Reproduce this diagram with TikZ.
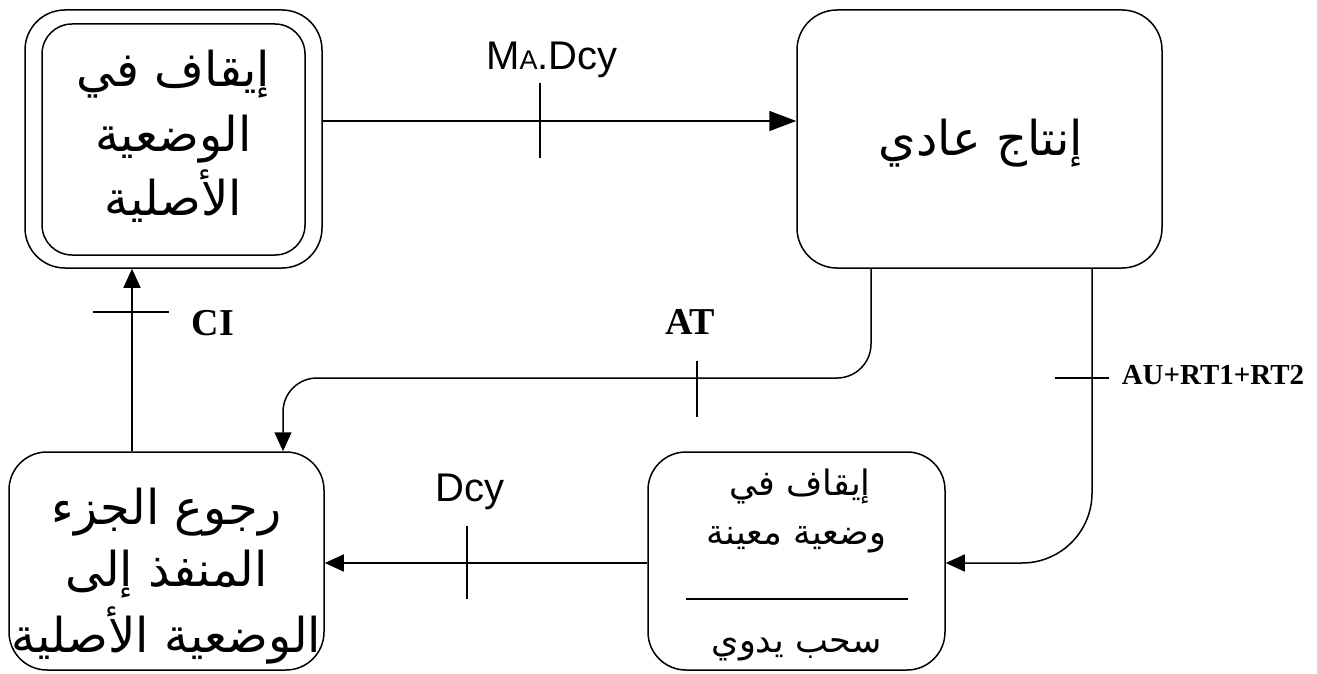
\documentclass[tikz,border=0pt]{standalone}
\usepackage{fontspec}
\usetikzlibrary{arrows.meta}
\TeXXeTstate=1
\newfontfamily\arabicfont[Script=Arabic]{DejaVu Sans}
\newfontfamily\latinsans{Liberation Sans}
\newfontfamily\latinserif{Liberation Serif}

\begin{document}
\begin{tikzpicture}[x=1pt,y=-1pt,
  box/.style={draw, line width=1.5pt, rounded corners=40pt, inner sep=0pt},
  conn/.style={line width=1.5pt},
  arr/.style={conn, -{Triangle[length=19pt,width=17pt]}},
  tickmark/.style={line width=1.5pt},
  bigar/.style={font=\arabicfont\fontsize{48}{56}\selectfont, anchor=base, inner sep=0pt},
  smallar/.style={font=\arabicfont\fontsize{35}{40}\selectfont, anchor=base, inner sep=0pt},
  cond/.style={font=\latinserif\bfseries\fontsize{38}{40}\selectfont, inner sep=0pt},
  sanslbl/.style={font=\latinsans\fontsize{40}{44}\selectfont, inner sep=0pt},
]
\useasboundingbox[fill=white] (0,0) rectangle (1317,674);

% steps
\node[box, minimum width=297pt, minimum height=258pt] (b1o) at (173.5,139) {};
\node[box, rounded corners=30pt, minimum width=263pt, minimum height=231pt] (b1i) at (173.5,139.5) {};
\node[box, minimum width=365pt, minimum height=258pt] (b2) at (979.5,139) {};
\node[box, rounded corners=38pt, minimum width=315pt, minimum height=218pt] (b3) at (166.5,561) {};
\node[box, rounded corners=38pt, minimum width=297pt, minimum height=218pt] (b4) at (796.5,561) {};

% step texts
\node[bigar] (t1a) at (173.5,87) {\beginR إيقاف في\endR};
\node[bigar] (t1b) at (173.5,152) {\beginR الوضعية\endR};
\node[bigar] (t1c) at (173.5,215) {\beginR الأصلية\endR};

\node[bigar] (t2) at (981,155) {\beginR إنتاج عادي\endR};

\node[bigar] (t3a) at (166.5,524) {\beginR رجوع الجزء\endR};
\node[bigar] (t3b) at (166.5,586) {\beginR المنفذ إلى\endR};
\node[bigar] (t3c) at (166.5,652) {\beginR الوضعية الأصلية\endR};

\node[smallar] (t4a) at (800,495) {\beginR إيقاف في\endR};
\node[smallar] (t4b) at (796.5,544) {\beginR وضعية معينة\endR};
\node[smallar] (t4c) at (796.5,652) {\beginR سحب يدوي\endR};
\draw[conn] ([xshift=-110.5pt]b4.center |- 0,599) coordinate (s1) -- ([xshift=111.5pt]b4.center |- 0,599) coordinate (s2);

% transitions
\draw[conn, -{Triangle[length=27pt,width=20pt]}] ([yshift=18pt]b1o.east) -- ([yshift=18pt]b2.west);
\draw[arr, rounded corners=34pt] ([xshift=-108.5pt]b2.south) |- (283,378) coordinate (atbend) -- ([xshift=116.5pt]b3.north);
\draw[arr, rounded corners=70pt] ([xshift=112.5pt]b2.south) |- ([yshift=-2pt]b4.east);
\draw[arr] ([yshift=-2pt]b4.west) -- ([yshift=-2pt]b3.east);
\draw[arr] ([xshift=-34.5pt]b3.north) -- ([xshift=-41.5pt]b1o.south);

% receptivity ticks
\coordinate (k1) at (540,121);
\coordinate (k2) at (697,378);
\coordinate (k3) at (1092,378);
\coordinate (k4) at (467,563);
\coordinate (k5) at (132,312);
\draw[tickmark] ([yshift=38pt]k1) -- ([yshift=-37pt]k1);
\draw[tickmark] ([yshift=17pt]k2) -- ([yshift=-39pt]k2);
\draw[tickmark] ([xshift=-37pt]k3) -- ([xshift=17pt]k3);
\draw[tickmark] ([yshift=37pt]k4) -- ([yshift=-36pt]k4);
\draw[tickmark] ([xshift=-39pt]k5) -- ([xshift=37pt]k5);

% receptivity labels
\node[sanslbl] (lma) at (552,60) {M{\fontsize{27}{30}\selectfont A}.Dcy};
\node[sanslbl] (ldcy) at (470,492) {Dcy};
\node[cond] (lat) at (690,322) {AT};
\node[cond] (lci) at (213,323) {CI};
\node[cond, font=\latinserif\bfseries\fontsize{29}{32}\selectfont] (lau) at (1213,375) {AU+RT1+RT2};
\end{tikzpicture}
\end{document}
